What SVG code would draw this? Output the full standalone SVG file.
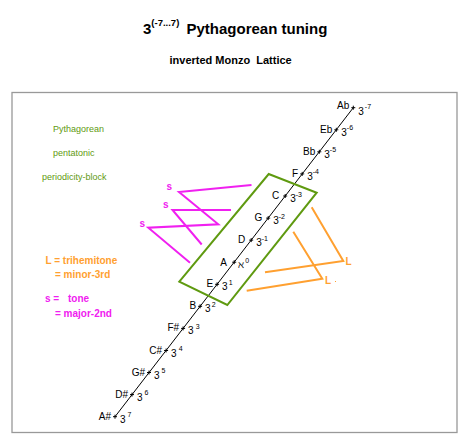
<svg xmlns="http://www.w3.org/2000/svg" width="467" height="445" viewBox="0 0 467 445">
<style>
text{font-family:"Liberation Sans",Arial,sans-serif;}
.t{font-weight:bold;fill:#000;}
.n{font-size:10px;fill:#000;text-anchor:end;}
.e{font-size:10px;fill:#000;}
.s{font-size:7px;}
.g{font-size:9px;fill:#5f9a10;}
.o{font-size:10px;font-weight:bold;fill:#ffa030;}
.m{font-size:10px;font-weight:bold;fill:#f020f0;}
.tick{stroke:#000;stroke-width:1;}
</style>
<rect width="467" height="445" fill="#fff"/>
<rect x="12" y="92.5" width="445" height="340" fill="none" stroke="#999" stroke-width="1.3"/>
<g id="title">
<text class="t" x="143" y="34" font-size="15">3<tspan font-size="9.5" dy="-8">(-7...7)</tspan><tspan x="186.5" dy="8">Pythagorean tuning</tspan></text>
<text class="t" x="169.5" y="64" font-size="11" xml:space="preserve">inverted Monzo  Lattice</text>
</g>
<g id="notes-left">
<text class="g" x="53" y="131.5">Pythagorean</text>
<text class="g" x="53" y="156">pentatonic</text>
<text class="g" x="42" y="180">periodicity-block</text>
<text class="o" x="45.5" y="264">L = trihemitone</text>
<text class="o" x="55" y="278">= minor-3rd</text>
<text class="m" x="45" y="302">s =<tspan x="68">tone</tspan></text>
<text class="m" x="55" y="317">= major-2nd</text>
</g>
<g id="connectors" fill="none">
<line x1="115" y1="416.7" x2="353.3" y2="107.7" stroke="#000" stroke-width="1"/>
<polygon points="268.7,174 316.7,192.7 227.3,305 179.3,281.7" stroke="#5f9a10" stroke-width="2"/>
<polyline points="251.5,185 179,192 218.3,224.3 148.3,227.7 190,262.7" stroke="#f020f0" stroke-width="2"/>
<polyline points="231,210 172.5,210 201.7,244.5" stroke="#f020f0" stroke-width="2"/>
<polyline points="311.7,207.3 343.3,261 265,272.3" stroke="#ffa030" stroke-width="2"/>
<polyline points="293.3,231.7 322.3,278.7 246.7,290.7" stroke="#ffa030" stroke-width="2"/>
</g>
<g id="interval-labels">
<text class="m" x="166.5" y="190">s</text>
<text class="m" x="163" y="208">s</text>
<text class="m" x="139.5" y="227">s</text>
<text class="o" x="345.5" y="265">L</text>
<text class="o" x="325" y="284">L</text>
<rect x="335" y="281" width="1" height="1" fill="#ffa030"/>
</g>
<g id="ticks" class="tick">
<path d="M113,416.7h4M115,414.7v4M130,394.6h4M132,392.6v4M147,372.5h4M149,370.5v4M164.1,350.5h4M166.1,348.5v4M181.1,328.4h4M183.1,326.4v4M198.1,306.3h4M200.1,304.3v4M215.1,284.3h4M217.1,282.3v4M232.2,262.2h4M234.2,260.2v4M249.2,240.1h4M251.2,238.1v4M266.2,218.1h4M268.2,216.1v4M283.2,196h4M285.2,194v4M300.2,173.9h4M302.2,171.9v4M317.3,151.8h4M319.3,149.8v4M334.3,129.8h4M336.3,127.8v4M351.3,107.7h4M353.3,105.7v4"/>
</g>
<g id="n-A#"><text class="n" x="111" y="419.7">A#</text><text class="e" x="120" y="422.7">3<tspan class="s" dx="2" dy="-5.5">7</tspan></text></g>
<g id="n-D#"><text class="n" x="128" y="397.6">D#</text><text class="e" x="137" y="400.6">3<tspan class="s" dx="2" dy="-5.5">6</tspan></text></g>
<g id="n-G#"><text class="n" x="145" y="375.5">G#</text><text class="e" x="154" y="378.5">3<tspan class="s" dx="2" dy="-5.5">5</tspan></text></g>
<g id="n-C#"><text class="n" x="162.1" y="353.5">C#</text><text class="e" x="171.1" y="356.5">3<tspan class="s" dx="2" dy="-5.5">4</tspan></text></g>
<g id="n-F#"><text class="n" x="179.1" y="331.4">F#</text><text class="e" x="188.1" y="334.4">3<tspan class="s" dx="2" dy="-5.5">3</tspan></text></g>
<g id="n-B"><text class="n" x="196.1" y="309.3">B</text><text class="e" x="205.1" y="312.3">3<tspan class="s" dx="1" dy="-5.5">2</tspan></text></g>
<g id="n-E"><text class="n" x="213.1" y="287.3">E</text><text class="e" x="222.1" y="290.3">3<tspan class="s" dx="1" dy="-5.5">1</tspan></text></g>
<g id="n-A"><text class="n" x="227" y="266.2">A</text><text class="e" x="238.2" y="268.2">ℵ<tspan class="s" dx="1" dy="-5.5">0</tspan></text></g>
<g id="n-D"><text class="n" x="245.2" y="243.1">D</text><text class="e" x="256.2" y="246.1">3<tspan class="s" dx="0" dy="-5.5">-1</tspan></text></g>
<g id="n-G"><text class="n" x="262.2" y="221.1">G</text><text class="e" x="273.2" y="224.1">3<tspan class="s" dx="0" dy="-5.5">-2</tspan></text></g>
<g id="n-C"><text class="n" x="279.2" y="199">C</text><text class="e" x="290.2" y="202">3<tspan class="s" dx="0" dy="-5.5">-3</tspan></text></g>
<g id="n-F"><text class="n" x="298.2" y="176.9">F</text><text class="e" x="307.2" y="179.9">3<tspan class="s" dx="0" dy="-5.5">-4</tspan></text></g>
<g id="n-Bb"><text class="n" x="315.3" y="154.8">Bb</text><text class="e" x="324.3" y="157.8">3<tspan class="s" dx="0" dy="-5.5">-5</tspan></text></g>
<g id="n-Eb"><text class="n" x="332.3" y="132.8">Eb</text><text class="e" x="341.3" y="135.8">3<tspan class="s" dx="0" dy="-5.5">-6</tspan></text></g>
<g id="n-Ab"><text class="n" x="349.3" y="108.7">Ab</text><text class="e" x="358.3" y="114.7">3<tspan class="s" dx="1" dy="-5.5">-7</tspan></text></g>
</svg>
